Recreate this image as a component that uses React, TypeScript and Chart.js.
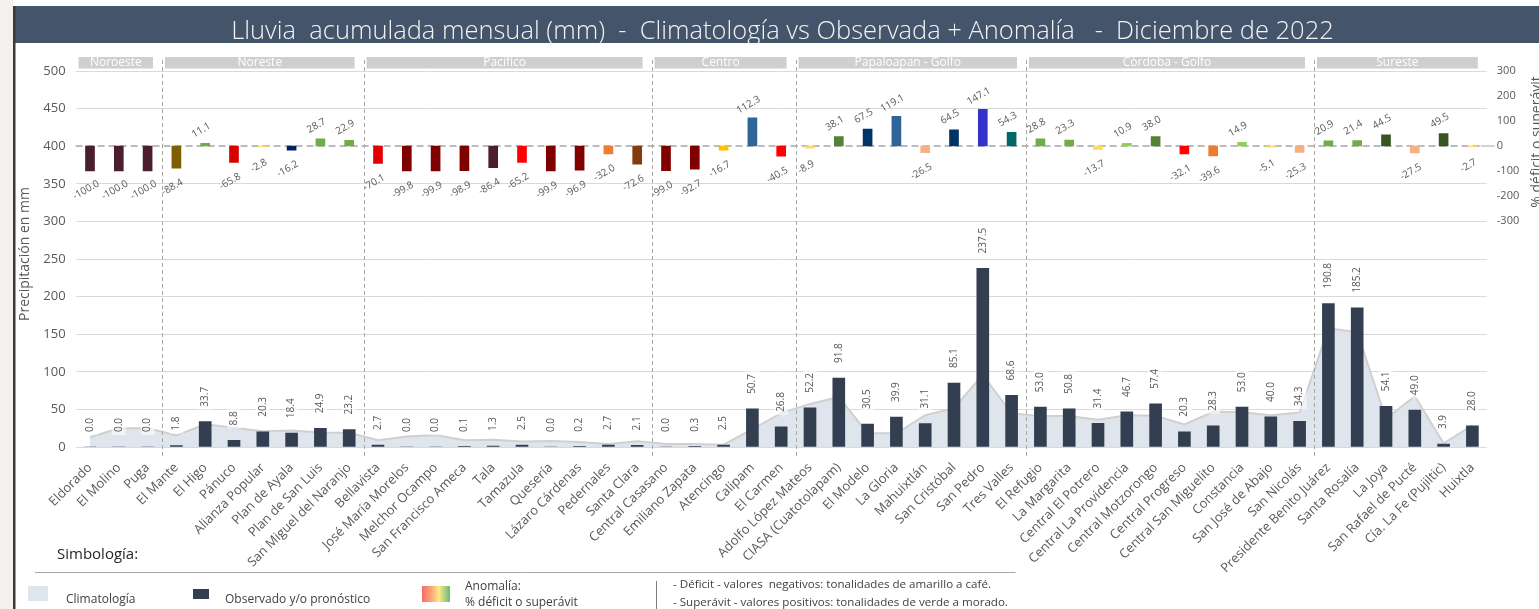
import React, { useEffect, useRef } from "react";
import { Chart, registerables } from "chart.js";

Chart.register(...registerables);

const categories = [
  "Eldorado", "El Molino", "Puga",
  "El Mante", "El Higo", "Pánuco", "Alianza Popular", "Plan de Ayala", "Plan de San Luis", "San Miguel del Naranjo",
  "Bellavista", "José María Morelos", "Melchor Ocampo", "San Francisco Ameca", "Tala", "Tamazula", "Quesería", "Lázaro Cárdenas", "Pedernales", "Santa Clara",
  "Central Casasano", "Emiliano Zapata", "Atencingo", "Calipam", "El Carmen",
  "Adolfo López Mateos", "CIASA (Cuatotolapam)", "El Modelo", "La Gloria", "Mahuixtlán", "San Cristóbal", "San Pedro", "Tres Valles",
  "El Refugio", "La Margarita", "Central El Potrero", "Central La Providencia", "Central Motzorongo", "Central Progreso", "Central San Miguelito", "Constancia", "San José de Abajo", "San Nicolás",
  "Presidente Benito Juárez", "Santa Rosalía", "La Joya", "San Rafael de Pucté", "Cía. La Fe (Pujiltic)", "Huixtla",
];

const observed = [
  0.0, 0.0, 0.0,
  1.8, 33.7, 8.8, 20.3, 18.4, 24.9, 23.2,
  2.7, 0.0, 0.0, 0.1, 1.3, 2.5, 0.0, 0.2, 2.7, 2.1,
  0.0, 0.3, 2.5, 50.7, 26.8,
  52.2, 91.8, 30.5, 39.9, 31.1, 85.1, 237.5, 68.6,
  53.0, 50.8, 31.4, 46.7, 57.4, 20.3, 28.3, 53.0, 40.0, 34.3,
  190.8, 185.2, 54.1, 49.0, 3.9, 28.0,
];

const climatology = [
  13, 25, 25,
  15.5, 30.3, 25.7, 20.9, 22.0, 19.3, 18.9,
  9.0, 14, 16, 9.1, 9.6, 7.2, 8, 6.5, 4.0, 7.7,
  4, 4.1, 3.0, 23.9, 45.0,
  57.3, 66.5, 18.2, 18.2, 42.3, 51.7, 96.1, 44.5,
  41.1, 41.2, 36.4, 42.1, 41.6, 29.9, 46.9, 46.1, 42.1, 45.9,
  157.8, 152.6, 37.4, 67.6, 5, 28.8,
];

const anomaly = [
  -100.0, -100.0, -100.0,
  -88.4, 11.1, -65.8, -2.8, -16.2, 28.7, 22.9,
  -70.1, -99.8, -99.9, -98.9, -86.4, -65.2, -99.9, -96.9, -32.0, -72.6,
  -99.0, -92.7, -16.7, 112.3, -40.5,
  -8.9, 38.1, 67.5, 119.1, -26.5, 64.5, 147.1, 54.3,
  28.8, 23.3, -13.7, 10.9, 38.0, -32.1, -39.6, 14.9, -5.1, -25.3,
  20.9, 21.4, 44.5, -27.5, 49.5, -2.7,
];

const anomalyColors = [
  "#4b1e2c", "#4b1e2c", "#4b1e2c",
  "#7f6000", "#70ad47", "#d60000", "#ffd966", "#002060", "#70ad47", "#70ad47",
  "#e00000", "#800000", "#800000", "#800000", "#4b1e2c", "#ff0000", "#800000", "#800000", "#ed7d31", "#843c0c",
  "#800000", "#800000", "#ffc000", "#2f6498", "#ff0000",
  "#ffd966", "#548235", "#003366", "#2f6498", "#f4b183", "#003366", "#3333cc", "#006666",
  "#70ad47", "#70ad47", "#ffd966", "#92d050", "#548235", "#ff0000", "#ed7d31", "#92d050", "#ffd966", "#f4b183",
  "#70ad47", "#70ad47", "#375623", "#f4b183", "#375623", "#ffd966",
];

const regionNames = ["Noroeste", "Noreste", "Pacífico", "Centro", "Papaloapan - Golfo", "Córdoba - Golfo", "Sureste"];
const regionCounts = [3, 7, 10, 5, 8, 10, 6];

const rightTicks = [-300, -200, -100, 0, 100, 200, 300];

const TITLE = "Lluvia  acumulada mensual (mm)  -  Climatología vs Observada + Anomalía   -  Diciembre de 2022";
const FONT = "'Open Sans', 'Noto Sans', 'DejaVu Sans', sans-serif";
const GREY = "#595959";

const decorPlugin = {
  id: "decor",
  beforeDraw(chart: any) {
    const { ctx, width, height } = chart;
    ctx.save();
    ctx.fillStyle = "#ffffff";
    ctx.fillRect(0, 0, width, height);
    ctx.fillStyle = "#f3f1ef";
    ctx.fillRect(0, 0, 13, height);
    ctx.fillStyle = "#44546a";
    ctx.fillRect(13, 6, width - 13, 37);
    ctx.fillStyle = "#3b3b3b";
    ctx.fillRect(13, 6, 2.5, height - 6);
    let size = 22;
    ctx.font = `300 ${size}px ${FONT}`;
    const w = ctx.measureText(TITLE).width;
    size = (size * 1103) / w;
    ctx.font = `300 ${size}px ${FONT}`;
    ctx.fillStyle = "#f2f2f2";
    ctx.textAlign = "center";
    ctx.textBaseline = "middle";
    ctx.fillText(TITLE, 782.5, 31.5);
    ctx.restore();
  },
  beforeDatasetsDraw(chart: any) {
    const { ctx, chartArea } = chart;
    const x = chart.scales.x;
    const step = x.getPixelForValue(1) - x.getPixelForValue(0);
    ctx.save();
    let start = 0;
    regionNames.forEach((name, r) => {
      const end = start + regionCounts[r] - 1;
      const x0 = x.getPixelForValue(start) - step / 2 + 3;
      const x1 = x.getPixelForValue(end) + step / 2 - 9;
      ctx.fillStyle = "#d0cece";
      ctx.fillRect(x0, 57, x1 - x0, 11.5);
      ctx.fillStyle = "#ffffff";
      ctx.font = `12px ${FONT}`;
      ctx.textAlign = "center";
      ctx.textBaseline = "middle";
      ctx.fillText(name, (x0 + x1) / 2, 62.5);
      start = end + 1;
    });
    const y0 = chart.scales.y1.getPixelForValue(0);
    ctx.strokeStyle = "#a6a6a6";
    ctx.lineWidth = 1.5;
    ctx.setLineDash([7, 4]);
    ctx.beginPath();
    ctx.moveTo(chartArea.left, y0);
    ctx.lineTo(chartArea.right - 6, y0);
    ctx.stroke();
    ctx.setLineDash([]);
    ctx.lineWidth = 1;
    ctx.beginPath();
    ctx.moveTo(chartArea.right - 6, y0);
    ctx.lineTo(chartArea.right + 8, y0);
    ctx.stroke();
    ctx.restore();
  },
  afterDatasetsDraw(chart: any) {
    const { ctx } = chart;
    const x = chart.scales.x;
    const step = x.getPixelForValue(1) - x.getPixelForValue(0);
    ctx.save();
    ctx.strokeStyle = "#a6a6a6";
    ctx.lineWidth = 1;
    ctx.setLineDash([4, 3]);
    let start = 0;
    for (let r = 0; r < regionCounts.length - 1; r++) {
      start += regionCounts[r];
      const px = Math.round(x.getPixelForValue(start) - step / 2) + 0.5;
      ctx.beginPath();
      ctx.moveTo(px, 60);
      ctx.lineTo(px, 458);
      ctx.stroke();
    }
    ctx.setLineDash([]);

    const obsMeta = chart.getDatasetMeta(1);
    ctx.font = `10px ${FONT}`;
    obsMeta.data.forEach((el: any, i: number) => {
      const txt = observed[i].toFixed(1);
      const tw = ctx.measureText(txt).width;
      const bottom = el.y - 15;
      ctx.save();
      ctx.translate(el.x, bottom);
      ctx.rotate(-Math.PI / 2);
      ctx.fillStyle = "rgba(255,255,255,0.6)";
      ctx.fillRect(-3, -7, tw + 6, 14);
      ctx.fillStyle = GREY;
      ctx.textAlign = "left";
      ctx.textBaseline = "middle";
      ctx.fillText(txt, 0, 0);
      ctx.restore();
    });

    const anMeta = chart.getDatasetMeta(2);
    anMeta.data.forEach((el: any, i: number) => {
      const v = anomaly[i];
      const txt = v.toFixed(1);
      const cy = v >= 0 ? el.y - 13 : el.y + 19;
      ctx.save();
      ctx.translate(el.x - 4, cy);
      ctx.rotate(-Math.PI / 6);
      ctx.fillStyle = GREY;
      ctx.textAlign = "center";
      ctx.textBaseline = "middle";
      ctx.fillText(txt, 0, 0);
      ctx.restore();
    });
    ctx.restore();
  },
  afterDraw(chart: any) {
    const { ctx } = chart;
    ctx.save();
    ctx.fillStyle = GREY;
    ctx.font = `14px ${FONT}`;
    ctx.textAlign = "center";
    ctx.textBaseline = "middle";
    ctx.save();
    ctx.translate(25, 254);
    ctx.rotate(-Math.PI / 2);
    ctx.fillText("Precipitación en mm", 0, 0);
    ctx.restore();
    ctx.save();
    ctx.translate(1537, 142);
    ctx.rotate(-Math.PI / 2);
    ctx.fillText("% déficit o superávit", 0, 0);
    ctx.restore();

    ctx.fillStyle = "#262626";
    ctx.font = `15px ${FONT}`;
    ctx.textAlign = "left";
    ctx.fillText("Simbología:", 57, 555);
    ctx.strokeStyle = "#a6a6a6";
    ctx.lineWidth = 1;
    ctx.beginPath();
    ctx.moveTo(35, 572.5);
    ctx.lineTo(1015.5, 572.5);
    ctx.stroke();

    ctx.fillStyle = "#dde5ef";
    ctx.fillRect(28, 586, 20, 15);
    ctx.fillStyle = "#333f50";
    ctx.fillRect(193, 589, 16, 10);
    const g = ctx.createLinearGradient(422, 0, 450, 0);
    g.addColorStop(0, "#f8696b");
    g.addColorStop(0.35, "#fbaa77");
    g.addColorStop(0.6, "#ffe884");
    g.addColorStop(1, "#63be7b");
    ctx.fillStyle = g;
    ctx.fillRect(422, 586, 28, 16);

    ctx.fillStyle = "#404040";
    ctx.font = `12px ${FONT}`;
    ctx.fillText("Climatología", 66, 600);
    ctx.fillText("Observado y/o pronóstico", 225, 600);
    ctx.fillText("Anomalía:", 465, 586.5);
    ctx.fillText("% déficit o superávit", 465, 603);

    ctx.strokeStyle = "#7f7f7f";
    ctx.beginPath();
    ctx.moveTo(656.5, 581);
    ctx.lineTo(656.5, 609);
    ctx.stroke();

    const l1 = "- Déficit - valores  negativos: tonalidades de amarillo a café.";
    const l2 = "- Superávit - valores positivos: tonalidades de verde a morado.";
    let fs = 12;
    ctx.font = `${fs}px ${FONT}`;
    fs = (fs * 335) / ctx.measureText(l2).width;
    ctx.font = `${fs}px ${FONT}`;
    ctx.fillText(l1, 673, 585);
    ctx.fillText(l2, 673, 602.5);
    ctx.restore();
  },
};

export default function App() {
  const ref = useRef<HTMLCanvasElement | null>(null);

  useEffect(() => {
    if (!ref.current) return;
    const chart = new Chart(ref.current, {
      type: "bar",
      data: {
        labels: categories,
        datasets: [
          {
            type: "line",
            label: "Climatología",
            data: climatology,
            yAxisID: "y",
            fill: "origin",
            backgroundColor: "#dfe5ed",
            borderColor: "#d0d0d0",
            borderWidth: 2,
            pointRadius: 0,
            tension: 0,
            order: 3,
          } as any,
          {
            type: "bar",
            label: "Observado y/o pronóstico",
            data: observed,
            yAxisID: "y",
            backgroundColor: "#333f50",
            barThickness: 12,
            grouped: false,
            order: 2,
          } as any,
          {
            type: "bar",
            label: "Anomalía",
            data: anomaly,
            yAxisID: "y1",
            backgroundColor: anomalyColors,
            barThickness: 9,
            grouped: false,
            order: 1,
          } as any,
        ],
      },
      options: {
        responsive: false,
        animation: false,
        devicePixelRatio: 1,
        layout: { padding: { top: 71, left: 0, right: 0, bottom: 0 } },
        plugins: {
          legend: { display: false },
          tooltip: { enabled: false },
          title: { display: false },
        },
        scales: {
          x: {
            type: "category",
            offset: true,
            grid: { display: false },
            border: { display: false },
            ticks: {
              autoSkip: false,
              maxRotation: 45,
              minRotation: 45,
              color: GREY,
              font: { family: FONT, size: 13 },
              padding: 5,
            },
            afterFit(s: any) {
              s.height = 162;
            },
          },
          y: {
            position: "left",
            min: 0,
            max: 500,
            ticks: {
              stepSize: 50,
              color: GREY,
              font: { family: FONT, size: 13 },
              padding: 10,
            },
            grid: {
              drawTicks: false,
              color: (c: any) => (c.tick && c.tick.value === 400 ? "rgba(0,0,0,0)" : "#d9d9d9"),
              lineWidth: 1,
            },
            border: { display: false },
            afterFit(s: any) {
              s.width = 75.6;
            },
          },
          y1: {
            position: "right",
            min: -1204,
            max: 300,
            grid: { display: false, drawOnChartArea: false },
            border: { display: false },
            afterBuildTicks(s: any) {
              s.ticks = rightTicks.map((v) => ({ value: v }));
            },
            ticks: {
              color: GREY,
              font: { family: FONT, size: 11 },
              padding: 2,
              callback: (v: any) => String(v),
            },
            afterFit(s: any) {
              s.width = 1539 - 1486.8;
            },
          },
        },
      } as any,
      plugins: [decorPlugin],
    });
    return () => chart.destroy();
  }, []);

  return (
    <div style={{ position: "fixed", left: 0, top: 0, width: 1539, height: 609 }}>
      <canvas ref={ref} width={1539} height={609} style={{ display: "block", width: 1539, height: 609 }} />
    </div>
  );
}
